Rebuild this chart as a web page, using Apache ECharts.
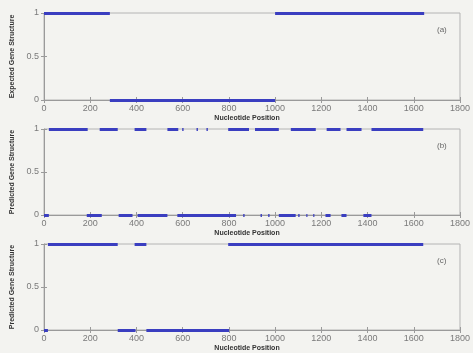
<!DOCTYPE html>
<html>
<head>
<meta charset="utf-8">
<script src="https://cdn.jsdelivr.net/npm/echarts@6/dist/echarts.min.js"></script>
<style>
  html, body { margin: 0; padding: 0; background: #f3f3f0; }
  #chart { width: 473px; height: 353px; }
</style>
</head>
<body>
<div id="chart"></div>
<script>
// x ticks and y ticks
const xTicks = [0, 200, 400, 600, 800, 1000, 1200, 1400, 1600, 1800]
const yTicks = [0, 0.5, 1]

// (a) expected structure: coding (y = 1) and non-coding (y = 0) stretches
const expectedCoding = [[0, 285], [1000, 1645]]
const expectedNoncoding = [[285, 1000]]

// (b) prediction
const predBCoding = [
  [21, 189], [241, 319], [392, 443], [534, 581], [598, 604], [660, 666],
  [703, 709], [797, 887], [913, 1016], [1068, 1176], [1223, 1283],
  [1309, 1374], [1417, 1641],
]
const predBNoncoding = [
  [0, 21], [185, 250], [323, 383], [405, 534], [577, 831], [862, 868],
  [937, 943], [970, 976], [1016, 1089], [1100, 1106], [1135, 1140],
  [1165, 1170], [1218, 1240], [1287, 1309], [1382, 1417],
]

// (c) prediction
const predCCoding = [[17, 319], [392, 443], [797, 1641]]
const predCNoncoding = [[0, 17], [319, 396], [443, 801]]

const panels = [
  { top: 13, height: 87, yName: 'Expected Gene Structure', tag: '(a)', coding: expectedCoding, noncoding: expectedNoncoding },
  { top: 129, height: 86, yName: 'Predicted Gene Structure', tag: '(b)', coding: predBCoding, noncoding: predBNoncoding },
  { top: 244, height: 87, yName: 'Predicted Gene Structure', tag: '(c)', coding: predCCoding, noncoding: predCNoncoding },
]

const font = 'Liberation Sans, Arial, sans-serif'
const axisGray = '#9a9a9a'
const labelGray = '#7a7a7a'

const grid = []
const xAxis = []
const yAxis = []
const series = []
const graphic = []

panels.forEach((p, i) => {
  grid.push({
    left: 44, right: 11, top: p.top, height: p.height,
    show: true, borderColor: '#b4b4b4', borderWidth: 1, backgroundColor: 'transparent',
  })
  xAxis.push({
    gridIndex: i, type: 'value', min: 0, max: 1800, interval: 200,
    name: 'Nucleotide Position', nameLocation: 'middle', nameGap: 15,
    nameTextStyle: { fontFamily: font, fontSize: 7, fontWeight: 'bold', color: '#333', padding: [0, 10, 0, 0] },
    axisLine: { show: true, lineStyle: { color: axisGray } },
    axisTick: { inside: true, length: 3, lineStyle: { color: axisGray } },
    axisLabel: { fontFamily: font, fontSize: 9, color: labelGray, margin: 4,
      formatter: (v) => (xTicks.includes(v) ? String(v) : '') },
    splitLine: { show: false },
  })
  xAxis.push({
    gridIndex: i, type: 'value', min: 0, max: 1800, interval: 200, position: 'top',
    axisLine: { show: false }, axisTick: { inside: true, length: 3, lineStyle: { color: axisGray } },
    axisLabel: { show: false }, splitLine: { show: false },
  })
  yAxis.push({
    gridIndex: i, type: 'value', min: 0, max: 1, interval: 0.5,
    name: p.yName, nameLocation: 'middle', nameGap: 24,
    nameTextStyle: { fontFamily: font, fontSize: 7, fontWeight: 'bold', color: '#333' },
    axisLine: { show: true, lineStyle: { color: axisGray } },
    axisTick: { inside: true, length: 3, lineStyle: { color: axisGray } },
    axisLabel: { fontFamily: font, fontSize: 9, color: labelGray, margin: 5,
      formatter: (v) => (yTicks.includes(v) ? String(v) : '') },
    splitLine: { show: false },
  })
  yAxis.push({
    gridIndex: i, type: 'value', min: 0, max: 1, interval: 0.5, position: 'right',
    axisLine: { show: false }, axisTick: { inside: true, length: 3, lineStyle: { color: axisGray } },
    axisLabel: { show: false }, splitLine: { show: false },
  })
  const segs = []
  p.coding.forEach(([s, e]) => segs.push({ coords: [[s, 1], [e, 1]] }))
  p.noncoding.forEach(([s, e]) => segs.push({ coords: [[s, 0], [e, 0]] }))
  series.push({
    type: 'lines', coordinateSystem: 'cartesian2d',
    xAxisIndex: i * 2, yAxisIndex: i * 2,
    polyline: false, clip: false, silent: true,
    lineStyle: { color: '#3a3ec0', width: 3, opacity: 1 },
    data: segs,
  })
  graphic.push({
    type: 'text', left: 437, top: p.top + 13,
    style: { text: p.tag, fontFamily: font, fontSize: 8, fill: '#666' },
  })
})

const chart = echarts.init(document.getElementById('chart'))
chart.setOption({
  backgroundColor: '#f3f3f0',
  animation: false,
  grid, xAxis, yAxis, series, graphic,
})
</script>
</body>
</html>
